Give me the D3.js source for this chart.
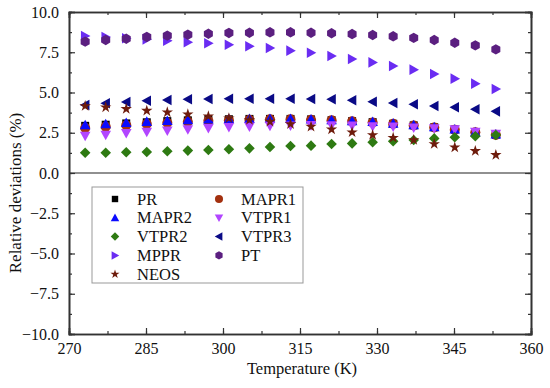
<!DOCTYPE html>
<html>
<head>
<meta charset="utf-8">
<script src="https://cdn.jsdelivr.net/npm/d3@7"></script>
<style>
  body { margin: 0; background: #fff; }
  text { font-family: "Times New Roman", "Liberation Serif", "DejaVu Serif", serif; fill: #111; }
</style>
</head>
<body>
<svg id="chart"></svg>
<script>
const width = 550, height = 388;
const margin = { top: 12, right: 19, bottom: 54, left: 69 };
const serif = "'Times New Roman', 'Liberation Serif', 'DejaVu Serif', serif";

// temperatures (K)
const temps = [273.15, 277.15, 281.15, 285.15, 289.15, 293.15, 297.15, 301.15, 305.15, 309.15,
    313.15, 317.15, 321.15, 325.15, 329.15, 333.15, 337.15, 341.15, 345.15, 349.15, 353.15];

const PR    = [2.93, 3.00, 3.08, 3.15, 3.22, 3.27, 3.32, 3.34, 3.36, 3.36, 3.36, 3.33, 3.28, 3.22, 3.16, 3.06, 2.96, 2.84, 2.70, 2.54, 2.38];
const MAPR1 = [2.80, 2.88, 2.97, 3.05, 3.12, 3.18, 3.24, 3.28, 3.31, 3.33, 3.33, 3.31, 3.27, 3.21, 3.14, 3.05, 2.95, 2.83, 2.69, 2.53, 2.37];
const MAPR2 = [2.98, 3.04, 3.12, 3.19, 3.25, 3.29, 3.34, 3.35, 3.37, 3.37, 3.37, 3.34, 3.29, 3.23, 3.18, 3.08, 2.98, 2.86, 2.72, 2.55, 2.40];
const VTPR1 = [2.30, 2.36, 2.47, 2.55, 2.63, 2.71, 2.78, 2.84, 2.88, 2.92, 2.94, 2.96, 2.95, 2.94, 2.89, 2.87, 2.81, 2.76, 2.70, 2.55, 2.42];
const VTPR2 = [1.26, 1.26, 1.29, 1.30, 1.35, 1.39, 1.43, 1.47, 1.53, 1.61, 1.68, 1.70, 1.80, 1.84, 1.91, 1.97, 2.05, 2.15, 2.22, 2.28, 2.36];
const VTPR3 = [4.22, 4.33, 4.41, 4.49, 4.53, 4.58, 4.60, 4.61, 4.61, 4.61, 4.61, 4.60, 4.58, 4.52, 4.43, 4.35, 4.27, 4.16, 4.08, 3.96, 3.83];
const MPPR  = [8.51, 8.45, 8.37, 8.30, 8.22, 8.12, 8.06, 7.97, 7.87, 7.76, 7.60, 7.47, 7.27, 7.08, 6.87, 6.65, 6.42, 6.15, 5.86, 5.55, 5.22];
const PT    = [8.16, 8.26, 8.34, 8.45, 8.53, 8.59, 8.65, 8.70, 8.71, 8.74, 8.74, 8.71, 8.68, 8.63, 8.57, 8.49, 8.39, 8.26, 8.09, 7.93, 7.68];
const NEOS  = [4.16, 4.08, 3.98, 3.87, 3.77, 3.65, 3.52, 3.40, 3.29, 3.19, 3.04, 2.88, 2.71, 2.53, 2.36, 2.19, 2.05, 1.80, 1.59, 1.37, 1.12];

const xTicks = [270, 285, 300, 315, 330, 345, 360];
const yTicks = [-10, -7.5, -5, -2.5, 0, 2.5, 5, 7.5, 10];

// legend order follows the original (two columns)
const series = [
    { name: "PR", values: PR, color: "#000000", shape: "square" },
    { name: "MAPR1", values: MAPR1, color: "#a3300f", shape: "circle" },
    { name: "MAPR2", values: MAPR2, color: "#0a0aff", shape: "up" },
    { name: "VTPR1", values: VTPR1, color: "#b245ff", shape: "down" },
    { name: "VTPR2", values: VTPR2, color: "#2e7a12", shape: "diamond" },
    { name: "VTPR3", values: VTPR3, color: "#0a0a86", shape: "left" },
    { name: "MPPR", values: MPPR, color: "#6a2cf2", shape: "right" },
    { name: "PT", values: PT, color: "#5b1f80", shape: "hex" },
    { name: "NEOS", values: NEOS, color: "#6e1c0c", shape: "star" }
];

const svg = d3.select("#chart").attr("width", width).attr("height", height);

const x = d3.scaleLinear().domain([270, 360]).range([margin.left, width - margin.right]);
const y = d3.scaleLinear().domain([-10, 10]).range([height - margin.bottom, margin.top]);

const symbolFor = {
    square: d3.symbol().type(d3.symbolSquare).size(64),
    circle: d3.symbol().type(d3.symbolCircle).size(80),
    diamond: d3.symbol().type(d3.symbolSquare).size(56),
    star: d3.symbol().type(d3.symbolStar).size(40)
};

function markerPath(shape) {
    const s = 5.3;
    if (shape === "up") return `M0,${-s}L${s},${s * 0.8}L${-s},${s * 0.8}Z`;
    if (shape === "down") return `M0,${s}L${s},${-s * 0.8}L${-s},${-s * 0.8}Z`;
    if (shape === "left") return `M${-s},0L${s * 0.8},${-s}L${s * 0.8},${s}Z`;
    if (shape === "right") return `M${s},0L${-s * 0.8},${-s}L${-s * 0.8},${s}Z`;
    if (shape === "hex") {
        const r = 5.2;
        const pts = d3.range(6).map(i => {
            const a = Math.PI / 6 + i * Math.PI / 3;
            return [r * Math.cos(a), r * Math.sin(a)];
        });
        return "M" + pts.map(p => p.join(",")).join("L") + "Z";
    }
    return symbolFor[shape]();
}

function markerTransform(shape) {
    return shape === "diamond" ? " rotate(45)" : "";
}

// zero line
svg.append("line")
    .attr("x1", x(270)).attr("x2", x(360))
    .attr("y1", y(0)).attr("y2", y(0))
    .attr("stroke", "#222").attr("stroke-width", 1.2);

// markers
const plot = svg.append("g");
series.forEach(s => {
    plot.append("g").selectAll("path")
        .data(s.values.map((v, i) => [temps[i], v]))
        .join("path")
        .attr("d", markerPath(s.shape))
        .attr("transform", d => `translate(${x(d[0])},${y(d[1])})` + markerTransform(s.shape))
        .attr("fill", s.color);
});

// axes, ticks inward, mirrored on top and right
const minorX = d3.range(270, 360.01, 7.5);
const minorY = d3.range(-10, 10.01, 1.25);

svg.append("g")
    .attr("transform", `translate(0,${height - margin.bottom})`)
    .call(d3.axisBottom(x).tickValues(minorX).tickSize(-3).tickFormat(""));
svg.append("g")
    .attr("transform", `translate(0,${height - margin.bottom})`)
    .call(d3.axisBottom(x).tickValues(xTicks).tickSize(-6).tickPadding(9).tickFormat(d3.format("d")));

svg.append("g")
    .attr("transform", `translate(0,${margin.top})`)
    .call(d3.axisTop(x).tickValues(minorX).tickSize(-3).tickFormat(""));
svg.append("g")
    .attr("transform", `translate(0,${margin.top})`)
    .call(d3.axisTop(x).tickValues(xTicks).tickSize(-6).tickFormat(""));

svg.append("g")
    .attr("transform", `translate(${margin.left},0)`)
    .call(d3.axisLeft(y).tickValues(minorY).tickSize(-3).tickFormat(""));
svg.append("g")
    .attr("transform", `translate(${margin.left},0)`)
    .call(d3.axisLeft(y).tickValues(yTicks).tickSize(-6).tickPadding(10).tickFormat(d3.format(".1f")));

svg.append("g")
    .attr("transform", `translate(${width - margin.right},0)`)
    .call(d3.axisRight(y).tickValues(minorY).tickSize(-3).tickFormat(""));
svg.append("g")
    .attr("transform", `translate(${width - margin.right},0)`)
    .call(d3.axisRight(y).tickValues(yTicks).tickSize(-6).tickFormat(""));

svg.selectAll(".domain").attr("stroke", "#333").attr("stroke-width", 1.6);
svg.selectAll(".tick line").attr("stroke", "#333").attr("stroke-width", 1.2);
svg.selectAll("g").attr("font-family", serif);
svg.selectAll(".tick text")
    .style("font-family", serif)
    .style("font-size", "16px")
    .attr("fill", "#111");

// axis titles
svg.append("text")
    .attr("x", (x(270) + x(360)) / 2 + 2)
    .attr("y", 374)
    .attr("text-anchor", "middle")
    .style("font-size", "16.5px")
    .text("Temperature (K)");

svg.append("text")
    .attr("transform", `translate(21,${(y(10) + y(-10)) / 2 + 20}) rotate(-90)`)
    .attr("text-anchor", "middle")
    .style("font-size", "17px")
    .text("Relative deviations (%)");

// legend
const legend = svg.append("g");
legend.append("rect")
    .attr("x", 92).attr("y", 187)
    .attr("width", 211).attr("height", 96)
    .attr("fill", "#fff")
    .attr("stroke", "#999").attr("stroke-width", 1);

series.forEach((s, i) => {
    const col = i % 2, row = Math.floor(i / 2);
    const lx = 115 + col * 104, ly = 199 + row * 18.8;
    const g = legend.append("g");
    g.append("path")
        .attr("d", markerPath(s.shape))
        .attr("transform", `translate(${lx},${ly}) scale(0.8)` + markerTransform(s.shape))
        .attr("fill", s.color);
    g.append("text")
        .attr("x", lx + 22).attr("y", ly + 5.5)
        .style("font-size", "16.5px")
        .text(s.name);
});
</script>
</body>
</html>
